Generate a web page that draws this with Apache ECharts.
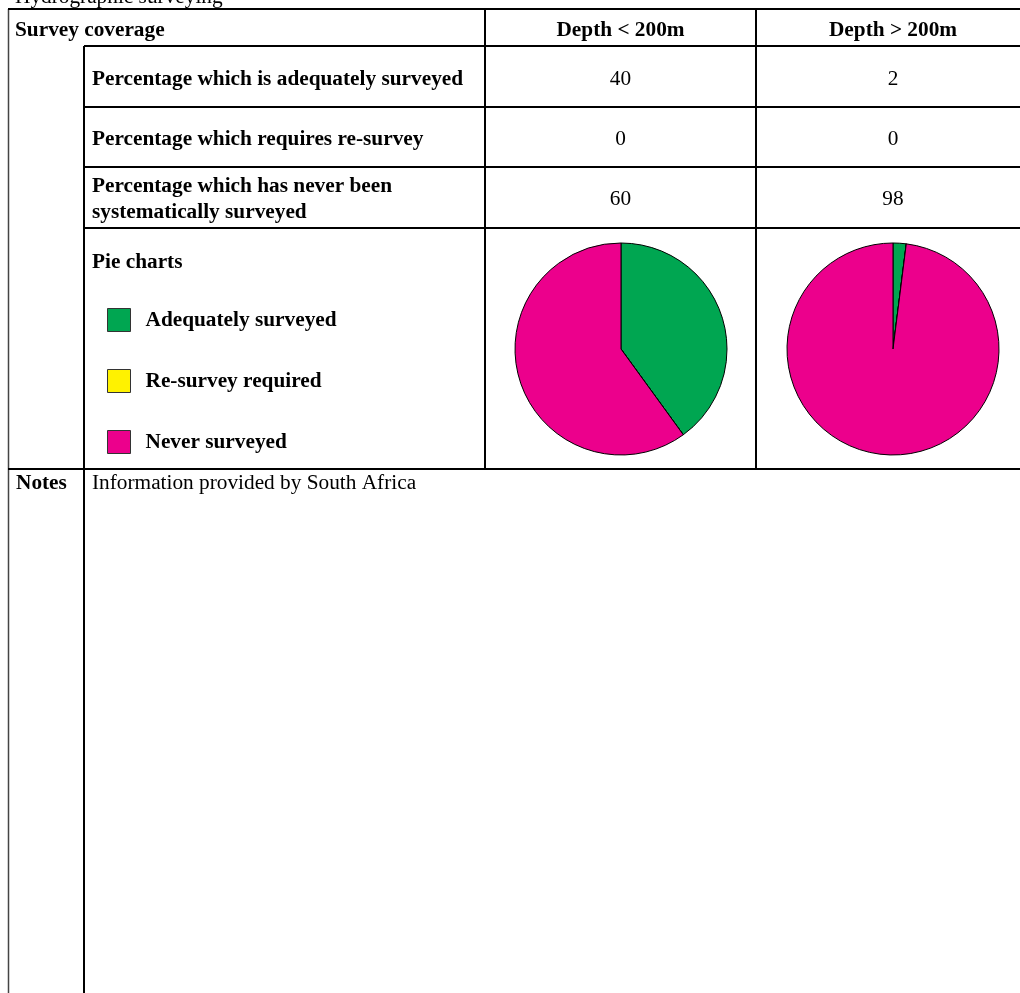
<!DOCTYPE html>
<html>
<head>
<meta charset="utf-8">
<script src="https://cdn.jsdelivr.net/npm/echarts@6/dist/echarts.min.js"></script>
<style>
html,body{margin:0;padding:0;background:#fff;}
#chart{width:1020px;height:993px;}
</style>
</head>
<body>
<div id="chart"></div>
<script>
const pageTitle = 'Hydrographic surveying';
const sectionTitle = 'Survey coverage';
const columnHeaders = ['Depth < 200m', 'Depth > 200m'];
const rowLabels = [
  'Percentage which is adequately surveyed',
  'Percentage which requires re-survey',
  'Percentage which has never been\nsystematically surveyed'
];
const shallowValues = [40, 0, 60];
const deepValues = [2, 0, 98];
const legendNames = ['Adequately surveyed', 'Re-survey required', 'Never surveyed'];
const sliceColors = ['#00A651', '#FFF200', '#EC008C'];
const pieLabel = 'Pie charts';
const notesLabel = 'Notes';
const notesText = 'Information provided by South Africa';

const FONT = '"Liberation Serif", "Times New Roman", serif';
const FS = 21.3;
const colCenters = [620.5, 893];
const rowCenters = [79, 139, 199.5];

const chart = echarts.init(document.getElementById('chart'), null, {renderer: 'canvas'});

function line(x1, y1, x2, y2, w, c) {
  return {type: 'line', silent: true, shape: {x1, y1, x2, y2},
    style: {stroke: c || '#000', lineWidth: w || 2}};
}
function text(x, y, t, opts) {
  opts = opts || {};
  return {type: 'text', silent: true, x, y,
    style: {text: t, fill: '#000', fontFamily: FONT, fontSize: FS,
      fontWeight: opts.bold ? 'bold' : 'normal',
      align: opts.align || 'left', verticalAlign: 'middle',
      lineHeight: opts.lineHeight || 26}};
}

const graphics = [];
// borders
graphics.push(line(8.5, 9, 8.5, 993, 1.5, '#444'));
graphics.push(line(8, 9, 1020, 9, 2));
graphics.push(line(84, 46, 1020, 46, 2));
graphics.push(line(84, 107, 1020, 107, 2));
graphics.push(line(84, 167, 1020, 167, 2));
graphics.push(line(84, 228, 1020, 228, 2));
graphics.push(line(8, 469, 1020, 469, 2));
graphics.push(line(84, 46, 84, 993, 2));
graphics.push(line(485, 9, 485, 469, 2));
graphics.push(line(756, 9, 756, 469, 2));

// texts
graphics.push(text(15, -3, pageTitle));
graphics.push(text(15, 30, sectionTitle, {bold: true}));
columnHeaders.forEach((h, i) => graphics.push(text(colCenters[i], 30, h, {bold: true, align: 'center'})));
rowLabels.forEach((l, i) => {
  graphics.push(text(92, rowCenters[i], l, {bold: true}));
  graphics.push(text(colCenters[0], rowCenters[i], String(shallowValues[i]), {align: 'center'}));
  graphics.push(text(colCenters[1], rowCenters[i], String(deepValues[i]), {align: 'center'}));
});
graphics.push(text(92, 262, pieLabel, {bold: true}));
graphics.push(text(16, 483, notesLabel, {bold: true}));
graphics.push(text(92, 483, notesText));

function pieSeries(values, center) {
  return {
    type: 'pie',
    center: center,
    radius: 106,
    startAngle: 90,
    clockwise: true,
    animation: false,
    label: {show: false},
    labelLine: {show: false},
    emphasis: {disabled: true},
    itemStyle: {borderColor: '#000', borderWidth: 1},
    data: legendNames.map((n, i) => ({name: n, value: values[i], itemStyle: {color: sliceColors[i]}}))
  };
}

chart.setOption({
  backgroundColor: '#fff',
  animation: false,
  color: sliceColors,
  legend: {
    orient: 'vertical',
    left: 107,
    top: 308,
    padding: 0,
    itemWidth: 23,
    itemHeight: 23,
    itemGap: 37,
    icon: 'rect',
    selectedMode: false,
    data: legendNames,
    itemStyle: {borderColor: '#333', borderWidth: 1},
    textStyle: {fontFamily: FONT, fontSize: FS, fontWeight: 'bold', color: '#000', padding: [2, 0, 0, 10]}
  },
  graphic: graphics,
  series: [
    pieSeries(shallowValues, [621, 349]),
    pieSeries(deepValues, [893, 349])
  ]
});
</script>
</body>
</html>
